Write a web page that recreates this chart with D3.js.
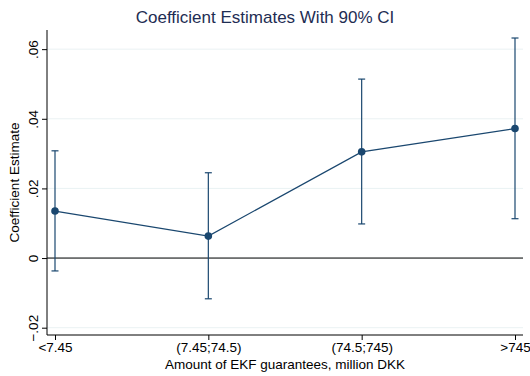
<!DOCTYPE html>
<head>
    <meta charset="utf-8"/>
    <script src="https://d3js.org/d3.v7.min.js"></script>
    <style>
        body { margin: 0; background: #fff; }
        text { font-family: "Liberation Sans", Arial, sans-serif; }
    </style>
</head>
<body>
<script>
    // data
    var categories = ["<7.45", "(7.45;74.5)", "(74.5;745)", ">745"];
    var estimates = [0.0135, 0.0063, 0.0305, 0.0372];
    var ciLow = [-0.0037, -0.0117, 0.0098, 0.0113];
    var ciHigh = [0.0308, 0.0245, 0.0514, 0.0632];
    var yTicks = [-0.02, 0, 0.02, 0.04, 0.06];
    var yTickLabels = ["\u2212.02", "0", ".02", ".04", ".06"];

    var width = 530, height = 376;
    var plotLeft = 47, plotRight = 523, plotTop = 30, plotBottom = 335;
    var navy = "#1a476f";
    var fs = 13.5;

    var svg = d3.select("body").append("svg")
        .attr("width", width)
        .attr("height", height);

    var x = d3.scalePoint().domain(categories).range([55, 515]);
    var y = d3.scaleLinear().domain([-0.0221, 0.0655]).range([plotBottom, plotTop]);

    // grid lines
    svg.append("g").selectAll("line").data(yTicks).join("line")
        .attr("x1", plotLeft).attr("x2", plotRight)
        .attr("y1", function (d) { return y(d); })
        .attr("y2", function (d) { return y(d); })
        .attr("stroke", "#eaf2f3").attr("stroke-width", 1);

    // zero line
    svg.append("line")
        .attr("x1", plotLeft).attr("x2", plotRight)
        .attr("y1", y(0)).attr("y2", y(0))
        .attr("stroke", "#000").attr("stroke-width", 1);

    // y axis
    var yAxis = d3.axisLeft(y).tickValues(yTicks).tickSize(5).tickPadding(4)
        .tickFormat(function (d, i) { return yTickLabels[i]; });
    var gy = svg.append("g").attr("transform", "translate(" + plotLeft + ",0)").call(yAxis);
    gy.select(".domain").attr("d", "M0," + plotTop + "V" + plotBottom).attr("stroke", "#000");
    gy.selectAll(".tick line").attr("stroke", "#000");
    gy.selectAll(".tick text")
        .attr("font-size", fs).attr("fill", "#000")
        .attr("text-anchor", "middle")
        .attr("x", null).attr("dy", null)
        .attr("transform", "translate(-9.5,0) rotate(-90)");

    // x axis
    var xAxis = d3.axisBottom(x).tickSize(5).tickPadding(2);
    var gx = svg.append("g").attr("transform", "translate(0," + plotBottom + ")").call(xAxis);
    gx.select(".domain").attr("d", "M" + plotLeft + ",0H" + plotRight).attr("stroke", "#000");
    gx.selectAll(".tick line").attr("stroke", "#000");
    gx.selectAll(".tick text").attr("font-size", fs).attr("fill", "#000");

    // error bars
    var rows = categories.map(function (c, i) {
        return { c: c, est: estimates[i], lo: ciLow[i], hi: ciHigh[i] };
    });
    var bars = svg.append("g").attr("stroke", navy).attr("stroke-width", 1.2);
    bars.selectAll(".v").data(rows).join("line")
        .attr("x1", function (d) { return x(d.c); })
        .attr("x2", function (d) { return x(d.c); })
        .attr("y1", function (d) { return y(d.lo); })
        .attr("y2", function (d) { return y(d.hi); });
    bars.selectAll(".capHi").data(rows).join("line")
        .attr("x1", function (d) { return x(d.c) - 3.5; })
        .attr("x2", function (d) { return x(d.c) + 3.5; })
        .attr("y1", function (d) { return y(d.hi); })
        .attr("y2", function (d) { return y(d.hi); });
    bars.selectAll(".capLo").data(rows).join("line")
        .attr("x1", function (d) { return x(d.c) - 3.5; })
        .attr("x2", function (d) { return x(d.c) + 3.5; })
        .attr("y1", function (d) { return y(d.lo); })
        .attr("y2", function (d) { return y(d.lo); });

    // connecting line
    var line = d3.line()
        .x(function (d) { return x(d.c); })
        .y(function (d) { return y(d.est); });
    svg.append("path").datum(rows)
        .attr("d", line)
        .attr("fill", "none")
        .attr("stroke", navy)
        .attr("stroke-width", 1.2);

    svg.append("g").selectAll("circle").data(rows).join("circle")
        .attr("cx", function (d) { return x(d.c); })
        .attr("cy", function (d) { return y(d.est); })
        .attr("r", 3.8)
        .attr("fill", navy);

    // titles
    svg.append("text")
        .attr("x", 265).attr("y", 22.5)
        .attr("text-anchor", "middle")
        .attr("font-size", 17)
        .attr("fill", "#1e2d53")
        .text("Coefficient Estimates With 90% CI");

    svg.append("text")
        .attr("x", 285).attr("y", 369)
        .attr("text-anchor", "middle")
        .attr("font-size", fs)
        .attr("fill", "#000")
        .text("Amount of EKF guarantees, million DKK");

    svg.append("text")
        .attr("transform", "translate(19," + ((plotTop + plotBottom) / 2) + ") rotate(-90)")
        .attr("text-anchor", "middle")
        .attr("font-size", fs)
        .attr("fill", "#000")
        .text("Coefficient Estimate");
</script>
</body>
